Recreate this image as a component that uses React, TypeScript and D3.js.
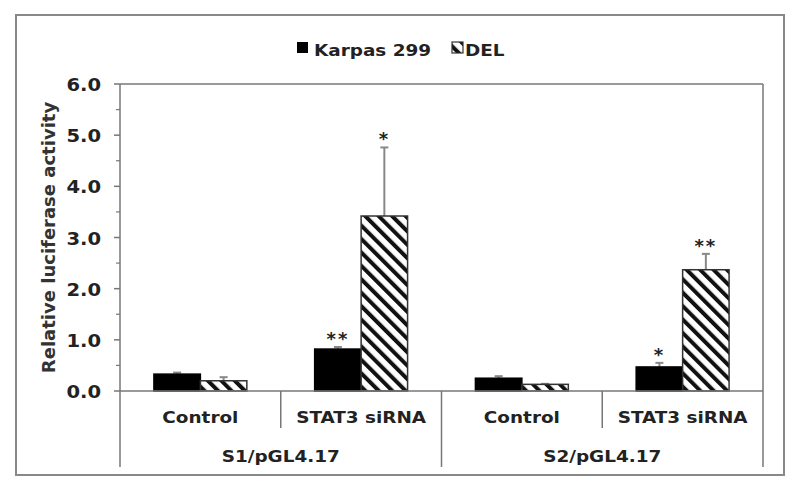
import React from "react";
import * as d3 from "d3";

// values
const groups = ["S1/pGL4.17", "S2/pGL4.17"];
const treatments = ["Control", "STAT3 siRNA"];
const series = ["Karpas 299", "DEL"];
const karpas = [0.33, 0.82, 0.25, 0.47];
const karpasErr = [0.03, 0.04, 0.04, 0.08];
const del = [0.2, 3.42, 0.13, 2.37];
const delErr = [0.07, 1.34, 0.01, 0.31];
const karpasStars = ["", "**", "", "*"];
const delStars = ["", "*", "", "**"];
const yTicks = [0, 1, 2, 3, 4, 5, 6];

const W = 800;
const H = 492;
const left = 120;
const right = 763;
const top = 84;
const bottom = 391;
const FONT = "'DejaVu Sans', Verdana, sans-serif";
const SX = 1.15; // the source image is a little stretched sideways

const cats = groups.flatMap((g) => treatments.map((t) => g + "|" + t));

const App = () => {
  const y = d3.scaleLinear().domain([0, 6]).range([bottom, top]);
  const x0 = d3.scaleBand<string>().domain(cats).range([left, right]);
  const x1 = d3
    .scaleBand<string>()
    .domain(series)
    .range([0, x0.bandwidth()])
    .paddingOuter(0.73);
  const minor = d3.range(0.5, 6, 1);

  const txt = (
    x: number,
    yy: number,
    s: string,
    size: number,
    anchor: string,
    weight = "bold"
  ) => (
    <text
      transform={"translate(" + x + "," + yy + ") scale(" + SX + ",1)"}
      textAnchor={anchor}
      fontFamily={FONT}
      fontSize={size}
      fontWeight={weight}
      fill="#222"
    >
      {s}
    </text>
  );

  const bars = cats.map((c, i) => {
    const vals = [karpas[i], del[i]];
    const errs = [karpasErr[i], delErr[i]];
    const stars = [karpasStars[i], delStars[i]];
    return (
      <g key={c} transform={"translate(" + x0(c) + ",0)"}>
        {series.map((s, j) => {
          const bx = x1(s) as number;
          const bw = x1.bandwidth();
          const cx = bx + bw / 2;
          const yTop = y(vals[j]);
          const yErr = y(vals[j] + errs[j]);
          return (
            <g key={s}>
              <line x1={cx} x2={cx} y1={yTop} y2={yErr} stroke="#888" strokeWidth={2} />
              <line x1={cx - 4} x2={cx + 4} y1={yErr} y2={yErr} stroke="#888" strokeWidth={2} />
              <rect
                x={bx}
                y={yTop}
                width={bw}
                height={bottom - yTop}
                fill={j === 0 ? "#000" : "url(#hatch)"}
                stroke={j === 0 ? "#000" : "#333"}
                strokeWidth={1.5}
              />
              {stars[j] && (
                <text
                  x={cx}
                  y={yErr - 2}
                  textAnchor="middle"
                  fontFamily={FONT}
                  fontSize={18}
                  fontWeight="bold"
                  fill="#222"
                  letterSpacing={2}
                >
                  {stars[j]}
                </text>
              )}
            </g>
          );
        })}
      </g>
    );
  });

  const bounds = d3.range(cats.length + 1).map((k) => left + k * x0.step());

  return (
    <svg width={W} height={H} style={{ position: "absolute", left: 0, top: 0 }}>
      <defs>
        <pattern id="hatch" patternUnits="userSpaceOnUse" width={9.5} height={9.5} patternTransform="rotate(-45)">
          <rect width={9.5} height={9.5} fill="#fff" />
          <rect width={4} height={9.5} fill="#111" />
        </pattern>
      </defs>
      <rect x={0} y={0} width={W} height={H} fill="#fff" />
      {/* outer frame */}
      <rect x={16} y={15} width={768} height={460} fill="none" stroke="#888" strokeWidth={2} />

      {/* legend */}
      <rect x={297} y={42} width={11} height={11} fill="#000" />
      {txt(314, 56, series[0], 16, "start")}
      <rect x={452} y={42} width={11} height={11} fill="url(#hatch)" stroke="#333" strokeWidth={1.2} />
      {txt(465, 56, series[1], 16, "start")}

      {bars}

      {/* plot box and axes */}
      <line x1={left} x2={right} y1={top} y2={top} stroke="#777" strokeWidth={1.5} />
      <line x1={right} x2={right} y1={top} y2={467} stroke="#777" strokeWidth={1.5} />
      <line x1={left} x2={left} y1={top} y2={467} stroke="#777" strokeWidth={1.5} />
      <line x1={left} x2={right} y1={bottom} y2={bottom} stroke="#777" strokeWidth={1.5} />
      {yTicks.map((t) => (
        <g key={t}>
          <line x1={left - 6} x2={left} y1={y(t)} y2={y(t)} stroke="#777" strokeWidth={1.5} />
          {txt(101, y(t) + 7, t.toFixed(1), 17, "end")}
        </g>
      ))}
      {minor.map((t) => (
        <line key={t} x1={left - 4} x2={left} y1={y(t)} y2={y(t)} stroke="#777" strokeWidth={1.2} />
      ))}
      <text
        transform={"translate(55," + (top + bottom) / 2 + ") rotate(-90)"}
        textAnchor="middle"
        fontFamily={FONT}
        fontSize={18}
        fontWeight="bold"
        fill="#333"
      >
        Relative luciferase activity
      </text>

      {/* category axis */}
      {bounds.slice(1, -1).map((bx, k) => (
        <line
          key={k}
          x1={bx}
          x2={bx}
          y1={bottom}
          y2={k % 2 === 1 ? 467 : 428}
          stroke="#777"
          strokeWidth={1.5}
        />
      ))}
      {cats.map((c, i) =>
        <g key={c}>{txt((x0(c) as number) + x0.bandwidth() / 2, 423, treatments[i % 2], 16, "middle")}</g>
      )}
      {groups.map((g, k) => (
        <g key={g}>{txt(left + x0.step() * (2 * k + 1), 462, g, 16, "middle")}</g>
      ))}
    </svg>
  );
};

export default App;
